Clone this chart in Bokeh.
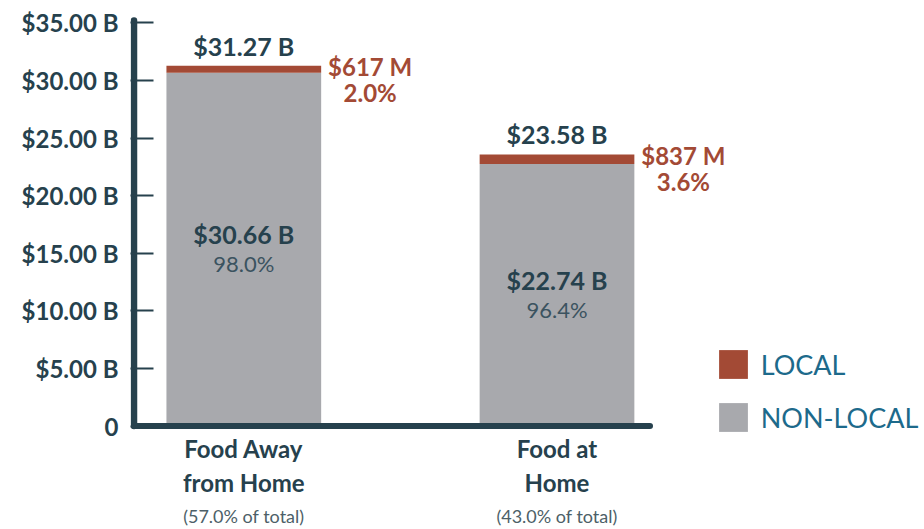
from bokeh.plotting import figure
from bokeh.models import Range1d, FixedTicker, Label, Legend, LegendItem, ColumnDataSource
from bokeh.embed import file_html
from bokeh.resources import INLINE

# ---- data ----
categories = ["Food Away\nfrom Home", "Food at\nHome"]
shares = ["(57.0% of total)", "(43.0% of total)"]
nonlocal_vals = [30.66, 22.74]          # $ B
local_vals = [0.617, 0.837]             # $ B
totals = [31.27, 23.58]                 # $ B
local_labels = ["$617 M", "$837 M"]
local_pct = ["2.0%", "3.6%"]
nonlocal_pct = ["98.0%", "96.4%"]
y_ticks = [0, 5, 10, 15, 20, 25, 30, 35]

DARK = "#26414d"
RUST = "#a34a35"
GRAY = "#a8a9ad"
TEAL = "#1d6a8b"
FONT = "Lato"

# ---- geometry (pixels) ----
WIDTH, HEIGHT = 922, 528
FRAME_LEFT = 130
PX_X = 313.2          # px per category step
PX_Y = 11.52          # px per $1 B
BAR1_CX = 243.3       # pixel centre of first bar
ZERO_Y = 425.5        # pixel row of value 0
x0 = -(BAR1_CX - FRAME_LEFT) / PX_X
x1 = x0 + (WIDTH - FRAME_LEFT) / PX_X
y1 = ZERO_Y / PX_Y
y0 = -(HEIGHT - ZERO_Y) / PX_Y

xs = list(range(len(categories)))
W = 0.494

src = ColumnDataSource(dict(x=xs, nonlocal_=nonlocal_vals, local=local_vals))

p = figure(width=WIDTH, height=HEIGHT, output_backend="svg", toolbar_location=None,
           x_range=Range1d(x0, x1), y_range=Range1d(y0, y1),
           x_axis_location=None,
           min_border_left=FRAME_LEFT, min_border_right=0, min_border_top=0,
           min_border_bottom=0)
p.outline_line_color = None
p.grid.visible = False
p.background_fill_color = "white"
p.border_fill_color = "white"

rs = p.vbar_stack(["nonlocal_", "local"], x="x", width=W, source=src,
                  color=[GRAY, RUST], line_color=None)

# axis lines (drawn as rules so they can stop where the reference stops)
ax_x = x0 + 3.5 / PX_X
p.segment(x0=[ax_x], y0=[0], x1=[ax_x], y1=[35.2], line_color=DARK,
          line_width=6.5, line_cap="round")
p.segment(x0=[ax_x], y0=[0], x1=[len(categories) - 1 + 0.297], y1=[0],
          line_color=DARK, line_width=6, line_cap="round")

# y axis: ticks and labels
ya = p.yaxis[0]
ya.ticker = FixedTicker(ticks=y_ticks)
ya.major_label_overrides = {t: ("0" if t == 0 else f"${t:.2f} B") for t in y_ticks}
ya.axis_line_color = None
ya.major_tick_in = 23
ya.major_tick_out = 0
ya.major_tick_line_color = DARK
ya.major_tick_line_width = 2
ya.minor_tick_line_color = None
ya.major_label_standoff = 12
ya.major_label_text_font = FONT
ya.major_label_text_font_style = "bold"
ya.major_label_text_font_size = "24px"
ya.major_label_text_color = DARK


def lab(x, y, text, size, color, style="bold", xo=0, yo=0):
    p.add_layout(Label(x=x, y=y, text=text, x_offset=xo, y_offset=yo,
                       text_font=FONT, text_font_size=size, text_font_style=style,
                       text_color=color, text_align="center", text_baseline="middle"))


for i in xs:
    lab(i, totals[i], f"${totals[i]:.2f} B", "25px", DARK, yo=20)
    lab(i + W / 2, totals[i], local_labels[i], "24px", RUST, xo=49, yo=-1)
    lab(i + W / 2, totals[i], local_pct[i], "24px", RUST, xo=49, yo=-27)
    lab(i, nonlocal_vals[i] / 2, f"${nonlocal_vals[i]:.2f} B", "25px", DARK, yo=15.5)
    lab(i, nonlocal_vals[i] / 2, nonlocal_pct[i], "22px", "#3b5360", style="normal", yo=-14)
    lines = categories[i].split("\n")
    lab(i, 0, lines[0], "24px", DARK, yo=-22.5)
    lab(i, 0, lines[1], "24px", DARK, yo=-56.5)
    lab(i, 0, shares[i], "18px", "#4d5f68", style="normal", yo=-89.5)

legend = Legend(items=[LegendItem(label="LOCAL", renderers=[rs[1]]),
                       LegendItem(label="NON-LOCAL", renderers=[rs[0]])],
                location=(584.7 + 0, HEIGHT - 435.3), orientation="vertical",
                glyph_width=36, glyph_height=36, label_height=36, spacing=17,
                label_standoff=10, padding=0, margin=0,
                border_line_color=None, background_fill_alpha=0,
                label_text_font=FONT, label_text_font_size="27px",
                label_text_color=TEAL)
p.add_layout(legend)

open("out.html", "w").write(file_html(p, INLINE))
